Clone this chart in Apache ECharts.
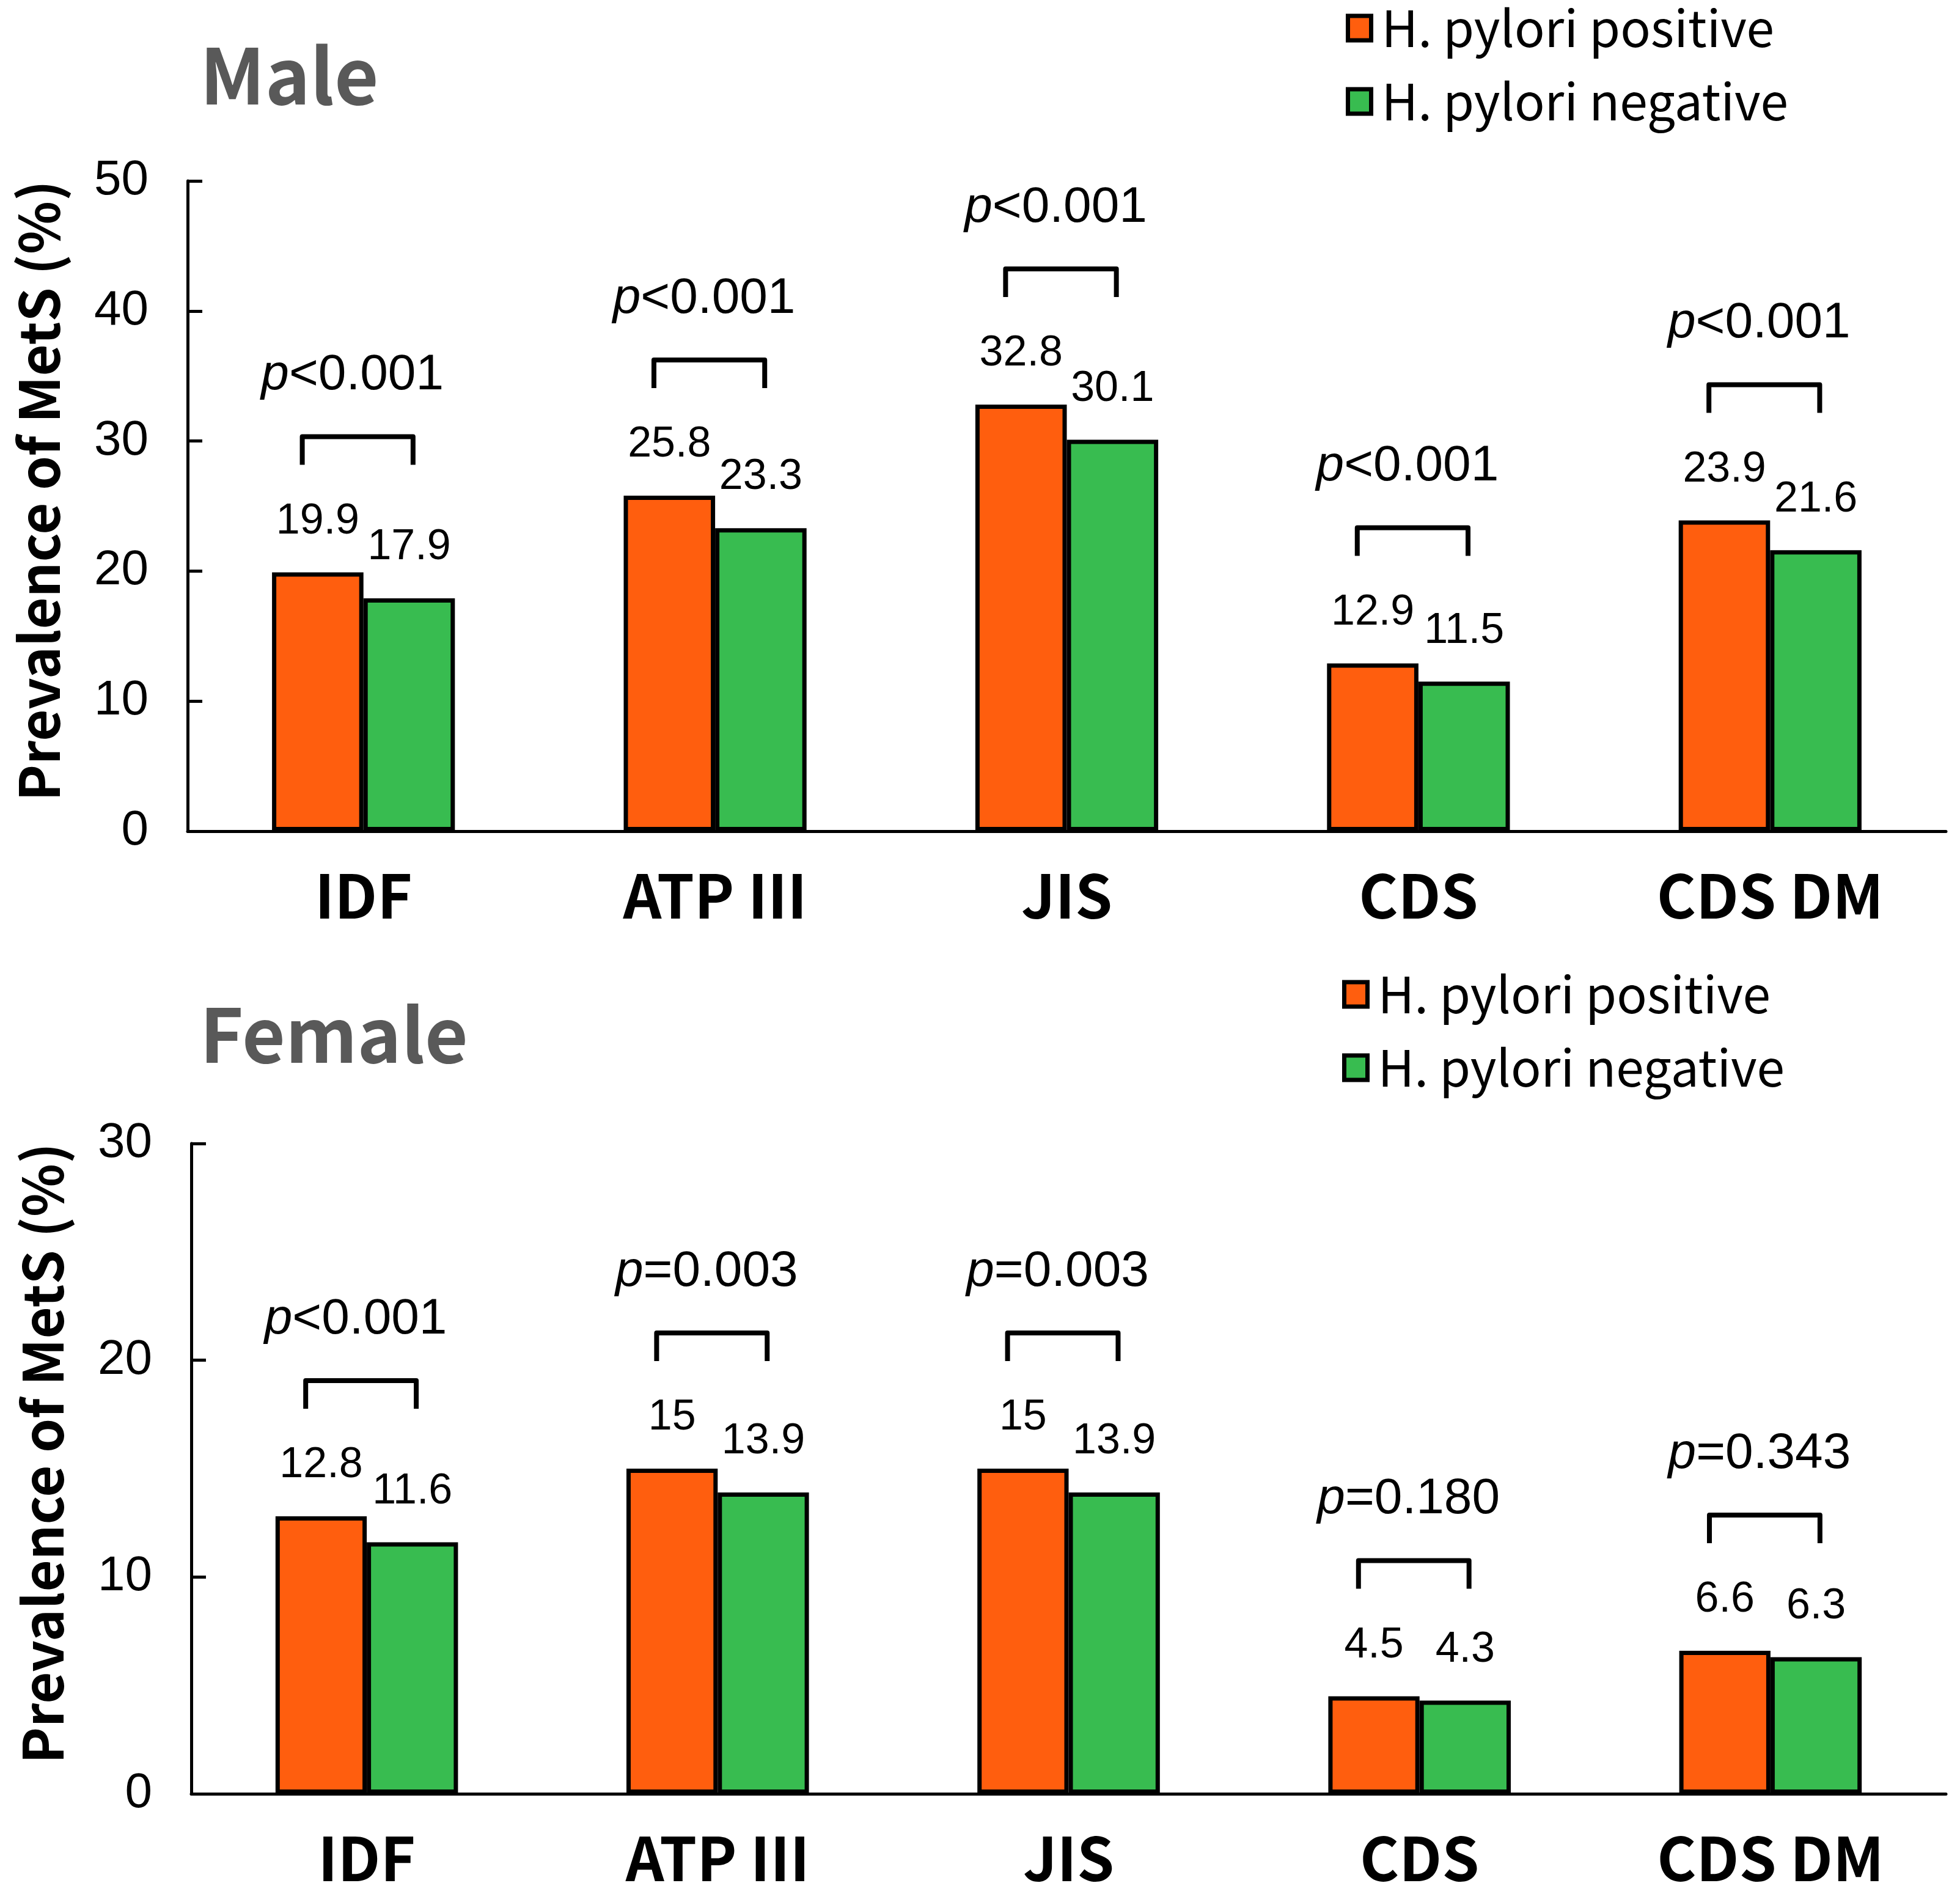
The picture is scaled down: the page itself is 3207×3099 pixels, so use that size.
<!DOCTYPE html>
<html>
<head>
<meta charset="utf-8">
<title>MetS prevalence by H. pylori status</title>
<script src="https://cdn.jsdelivr.net/npm/echarts@6/dist/echarts.min.js"></script>
<style>
  html, body { margin: 0; padding: 0; background: #fff; }
  #chart { width: 3207px; height: 3099px; }
</style>
</head>
<body>
<div id="chart"></div>
<script>
// data
var categories = ['IDF', 'ATP III', 'JIS', 'CDS', 'CDS DM'];
var malePositive = [19.9, 25.8, 32.8, 12.9, 23.9];
var maleNegative = [17.9, 23.3, 30.1, 11.5, 21.6];
var femalePositive = [12.8, 15, 15, 4.5, 6.6];
var femaleNegative = [11.6, 13.9, 13.9, 4.3, 6.3];
var maleP = ['<0.001', '<0.001', '<0.001', '<0.001', '<0.001'];
var femaleP = ['<0.001', '=0.003', '=0.003', '=0.180', '=0.343'];
var maleTicks = { min: 0, max: 50, interval: 10 };
var femaleTicks = { min: 0, max: 30, interval: 10 };

var ORANGE = '#FF5E0E';
var GREEN = '#38BC50';
var CJK = '"Noto Sans CJK SC", "Noto Sans", sans-serif';
var ARIAL = '"Liberation Sans", Arial, sans-serif';

var chart = echarts.init(document.getElementById('chart'));

function yAxisFor(ticks, gridIndex) {
    return {
        type: 'value',
        gridIndex: gridIndex,
        min: ticks.min,
        max: ticks.max,
        interval: ticks.interval,
        name: 'Prevalence of MetS (%)',
        nameLocation: 'middle',
        nameRotate: 90,
        nameGap: 198,
        nameTextStyle: { fontFamily: CJK, fontWeight: 'bold', fontSize: 90, color: '#000', padding: [0, 0, 0, 50] },
        axisLine: { show: true, lineStyle: { color: '#000', width: 5 } },
        axisTick: { show: true, inside: true, length: 24, lineStyle: { color: '#000', width: 5 } },
        axisLabel: { fontFamily: ARIAL, fontSize: 80, color: '#000', margin: 64 },
        splitLine: { show: false }
    };
}

function xAxisFor(gridIndex) {
    return {
        type: 'category',
        gridIndex: gridIndex,
        data: categories,
        axisLine: { lineStyle: { color: '#000', width: 5 } },
        axisTick: { show: false },
        axisLabel: { fontFamily: CJK, fontWeight: 'bold', fontSize: 98, color: '#000', margin: 57 }
    };
}

function barSeries(name, values, color, gridIndex) {
    return {
        name: name,
        type: 'bar',
        xAxisIndex: gridIndex,
        yAxisIndex: gridIndex,
        data: values,
        barWidth: '26%',
        barGap: '0%',
        itemStyle: { color: color, borderColor: '#000', borderWidth: 7 },
        label: {
            show: true,
            position: 'top',
            distance: 48,
            fontFamily: ARIAL,
            fontSize: 70,
            color: '#000'
        }
    };
}

// bracket + p value above each pair of bars
function bracketSeries(pos, neg, pTexts, gridIndex) {
    var d = categories.map(function (c, i) { return [i, Math.max(pos[i], neg[i])]; });
    return {
        type: 'custom',
        xAxisIndex: gridIndex,
        yAxisIndex: gridIndex,
        data: d,
        clip: false,
        z: 5,
        renderItem: function (params, api) {
            var pt = api.coord([api.value(0), api.value(1)]);
            var band = api.size([1, 0])[0];
            var top = pt[1] - 222;
            var l = pt[0] - band * 0.174;
            var r = pt[0] + band * 0.141;
            return {
                type: 'group',
                children: [{
                    type: 'polyline',
                    shape: { points: [[l, top + 46], [l, top], [r, top], [r, top + 46]] },
                    style: { stroke: '#000', lineWidth: 8, fill: null, lineJoin: 'round' }
                }, {
                    type: 'text',
                    style: {
                        x: pt[0] - 18,
                        y: top - 100,
                        text: '{i|p}{n|' + pTexts[params.dataIndex] + '}',
                        align: 'center',
                        verticalAlign: 'middle',
                        rich: {
                            i: { fontFamily: ARIAL, fontSize: 82, fontStyle: 'italic', fill: '#000' },
                            n: { fontFamily: ARIAL, fontSize: 82, fill: '#000' }
                        }
                    }
                }]
            };
        }
    };
}

function legendAt(left, top) {
    return {
        orient: 'vertical',
        left: left,
        top: top,
        padding: 0,
        itemWidth: 38,
        itemHeight: 40,
        itemGap: 38,
        icon: 'rect',
        itemStyle: { borderColor: '#000', borderWidth: 7 },
        textStyle: { fontFamily: CJK, fontSize: 82, color: '#000', lineHeight: 44, padding: [0, 0, 0, 12] },
        data: ['H. pylori positive', 'H. pylori negative']
    };
}

var option = {
    animation: false,
    backgroundColor: '#fff',
    title: [
        { text: 'Male', left: 322, top: 56, textStyle: { fontFamily: CJK, fontWeight: 'bold', fontSize: 125, color: '#595959' } },
        { text: 'Female', left: 322, top: 1627, textStyle: { fontFamily: CJK, fontWeight: 'bold', fontSize: 122, color: '#595959' } }
    ],
    legend: [legendAt(2202, 5), legendAt(2196, 1586)],
    grid: [
        { left: 307, top: 296, width: 2877, height: 1064 },
        { left: 313, top: 1871, width: 2871, height: 1064 }
    ],
    xAxis: [xAxisFor(0), xAxisFor(1)],
    yAxis: [yAxisFor(maleTicks, 0), yAxisFor(femaleTicks, 1)],
    series: [
        barSeries('H. pylori positive', malePositive, ORANGE, 0),
        barSeries('H. pylori negative', maleNegative, GREEN, 0),
        bracketSeries(malePositive, maleNegative, maleP, 0),
        barSeries('H. pylori positive', femalePositive, ORANGE, 1),
        barSeries('H. pylori negative', femaleNegative, GREEN, 1),
        bracketSeries(femalePositive, femaleNegative, femaleP, 1)
    ]
};

chart.setOption(option);
</script>
</body>
</html>
